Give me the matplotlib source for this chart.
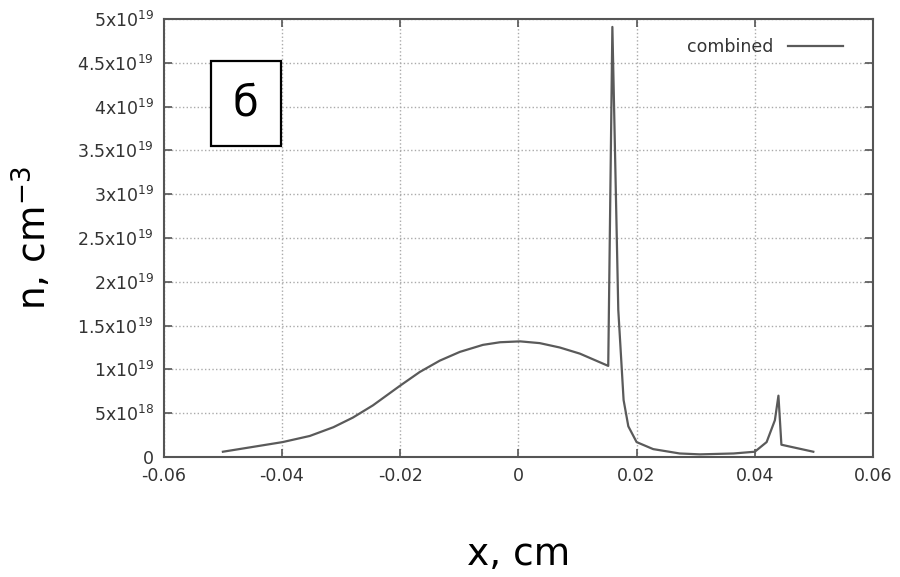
import matplotlib.pyplot as plt
from matplotlib.patches import Rectangle
import numpy as np

# density profile, x in cm, n in units of 1e19 cm^-3
x_cm = [-0.0500, -0.0454, -0.0399, -0.0353, -0.0313, -0.0280, -0.0246, -0.0201,
        -0.0167, -0.0133, -0.0099, -0.0060, -0.0031, 0.0003, 0.0036, 0.0070,
        0.0104, 0.0152, 0.0159, 0.0162, 0.0169, 0.0178, 0.0186, 0.0200,
        0.0228, 0.0273, 0.0307, 0.0364, 0.0400, 0.0420, 0.0434, 0.0440,
        0.0445, 0.0499]
n_1e19 = [0.06, 0.11, 0.17, 0.24, 0.34, 0.45, 0.59, 0.81,
          0.97, 1.10, 1.20, 1.28, 1.31, 1.32, 1.30, 1.25,
          1.18, 1.04, 4.91, 3.96, 1.68, 0.65, 0.35, 0.17,
          0.09, 0.04, 0.03, 0.04, 0.06, 0.17, 0.42, 0.70,
          0.14, 0.06]

xticks = [-0.06, -0.04, -0.02, 0, 0.02, 0.04, 0.06]
xtick_labels = ['-0.06', '-0.04', '-0.02', '0', '0.02', '0.04', '0.06']
yticks = [0, 5e18, 1e19, 1.5e19, 2e19, 2.5e19, 3e19, 3.5e19, 4e19, 4.5e19, 5e19]
ytick_labels = ['0', r'5x10$^{18}$', r'1x10$^{19}$', r'1.5x10$^{19}$', r'2x10$^{19}$',
                r'2.5x10$^{19}$', r'3x10$^{19}$', r'3.5x10$^{19}$', r'4x10$^{19}$',
                r'4.5x10$^{19}$', r'5x10$^{19}$']

plt.rcParams['font.family'] = ['DejaVu Sans']
plt.rcParams['mathtext.default'] = 'regular'

fig = plt.figure(figsize=(9, 5.77), dpi=100)
ax = fig.add_axes([0.182, 0.208, 0.788, 0.759])

ax.plot(x_cm, np.array(n_1e19) * 1e19, color='#5a5a5a', lw=1.6, label='combined')

ax.set_xlim(-0.06, 0.06)
ax.set_ylim(0, 5e19)
ax.set_xticks(xticks)
ax.set_xticklabels(xtick_labels)
ax.set_yticks(yticks)
ax.set_yticklabels(ytick_labels)
ax.tick_params(direction='in', length=6, width=1.2, color='#555555',
               top=True, right=True, labelsize=12.5, labelcolor='#333333', pad=7)
for s in ax.spines.values():
    s.set_color('#555555')
    s.set_linewidth(1.5)
ax.grid(True, linestyle=':', color='#aaaaaa', lw=1)

ax.set_xlabel('x, cm', fontsize=27, labelpad=38)
ax.set_ylabel(r'n, cm$^{-3}$', fontsize=27, labelpad=16)

leg = ax.legend(loc='upper right', frameon=False, fontsize=12.5, markerfirst=False,
                handlelength=3.2, borderaxespad=0.7, bbox_to_anchor=(0.985, 1.0))
for t in leg.get_texts():
    t.set_color('#333333')

# label box
ax.add_patch(Rectangle((0.066, 0.709), 0.099, 0.196, transform=ax.transAxes,
                       fill=True, fc='white', ec='black', lw=1.6, zorder=3))
ax.text(0.115, 0.807, 'б', transform=ax.transAxes, fontsize=30, ha='center',
        va='center', zorder=4)

fig.savefig('out.png', dpi=100)
